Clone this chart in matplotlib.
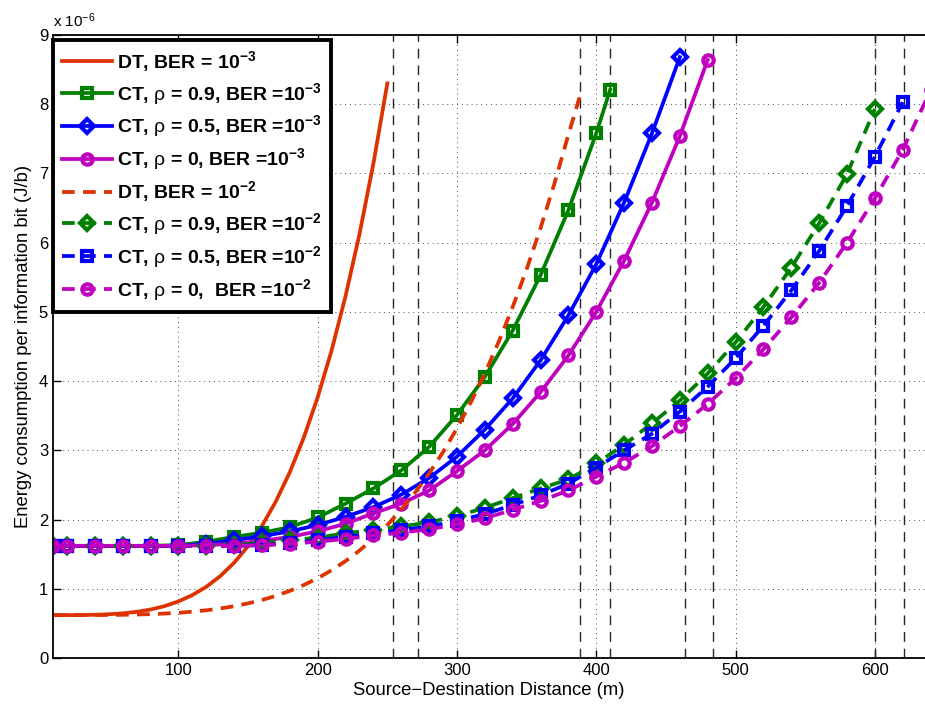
import matplotlib
matplotlib.use('Agg')
import matplotlib.pyplot as plt

plt.rcParams['font.family'] = ['Liberation Sans', 'DejaVu Sans']
plt.rcParams['mathtext.fontset'] = 'custom'
plt.rcParams['mathtext.rm'] = 'Liberation Sans'
plt.rcParams['mathtext.bf'] = 'Liberation Sans:bold'
plt.rcParams['mathtext.it'] = 'Liberation Sans:italic'

# energy per bit, in units of 1e-6 J/b
# direct transmission (no markers), read every 10 m
dt3_x = [10, 20, 30, 40, 50, 60, 70, 80, 90, 100, 110, 120, 130, 140, 150,
         160, 170, 180, 190, 200, 210, 220, 230, 240, 250]
dt3_y = [0.62, 0.62, 0.62, 0.625, 0.632, 0.645, 0.667, 0.70, 0.749, 0.817,
         0.908, 1.028, 1.182, 1.375, 1.615, 1.908, 2.262, 2.684, 3.182, 3.766,
         4.443, 5.226, 6.121, 7.141, 8.30]

dt2_x = [10, 20, 30, 40, 50, 60, 70, 80, 90, 100, 110, 120, 130, 140, 150,
         160, 170, 180, 190, 200, 210, 220, 230, 240, 250, 260, 270, 280, 290,
         300, 310, 320, 330, 340, 350, 360, 370, 380, 388]
dt2_y = [0.62, 0.62, 0.62, 0.621, 0.622, 0.624, 0.628, 0.634, 0.642, 0.653,
         0.669, 0.689, 0.715, 0.748, 0.789, 0.838, 0.898, 0.97, 1.054, 1.153,
         1.268, 1.40, 1.552, 1.725, 1.921, 2.142, 2.39, 2.667, 2.975, 3.317,
         3.695, 4.11, 4.57, 5.07, 5.615, 6.21, 6.857, 7.56, 8.1]

# cooperative transmission, markers every 20 m
ct09_3_x = [10, 20, 40, 60, 80, 100, 120, 140, 160, 180, 200, 220, 240, 260,
            280, 300, 320, 340, 360, 380, 400, 410]
ct09_3_y = [1.62, 1.62, 1.62, 1.62, 1.62, 1.63, 1.68, 1.75, 1.81, 1.89, 2.03,
            2.23, 2.45, 2.71, 3.05, 3.51, 4.06, 4.73, 5.53, 6.47, 7.58, 8.21]

ct05_3_x = [10, 20, 40, 60, 80, 100, 120, 140, 160, 180, 200, 220, 240, 260,
            280, 300, 320, 340, 360, 380, 400, 420, 440, 460]
ct05_3_y = [1.62, 1.62, 1.62, 1.62, 1.62, 1.62, 1.65, 1.70, 1.76, 1.83, 1.92,
            2.04, 2.18, 2.36, 2.60, 2.91, 3.30, 3.75, 4.30, 4.95, 5.69, 6.58,
            7.58, 8.68]

ct0_3_x = [10, 20, 40, 60, 80, 100, 120, 140, 160, 180, 200, 220, 240, 260,
           280, 300, 320, 340, 360, 380, 400, 420, 440, 460, 480]
ct0_3_y = [1.62, 1.62, 1.62, 1.62, 1.62, 1.62, 1.63, 1.65, 1.69, 1.75, 1.83,
           1.94, 2.09, 2.23, 2.42, 2.70, 3.00, 3.38, 3.84, 4.37, 5.00, 5.74,
           6.58, 7.54, 8.64]

ct09_2_x = [10, 20, 40, 60, 80, 100, 120, 140, 160, 180, 200, 220, 240, 260,
            280, 300, 320, 340, 360, 380, 400, 420, 440, 460, 480, 500, 520,
            540, 560, 580, 600]
ct09_2_y = [1.62, 1.62, 1.62, 1.62, 1.62, 1.62, 1.62, 1.63, 1.66, 1.70, 1.74,
            1.80, 1.85, 1.90, 1.96, 2.05, 2.17, 2.31, 2.45, 2.58, 2.81, 3.08,
            3.39, 3.72, 4.11, 4.56, 5.07, 5.64, 6.28, 6.99, 7.93]

ct05_2_x = [10, 20, 40, 60, 80, 100, 120, 140, 160, 180, 200, 220, 240, 260,
            280, 300, 320, 340, 360, 380, 400, 420, 440, 460, 480, 500, 520,
            540, 560, 580, 600, 620]
ct05_2_y = [1.62, 1.62, 1.62, 1.62, 1.62, 1.62, 1.62, 1.62, 1.63, 1.66, 1.70,
            1.75, 1.80, 1.85, 1.90, 1.98, 2.08, 2.21, 2.35, 2.52, 2.75, 3.00,
            3.24, 3.56, 3.92, 4.33, 4.80, 5.31, 5.88, 6.53, 7.24, 8.03]

ct0_2_x = [10, 20, 40, 60, 80, 100, 120, 140, 160, 180, 200, 220, 240, 260,
           280, 300, 320, 340, 360, 380, 400, 420, 440, 460, 480, 500, 520,
           540, 560, 580, 600, 620, 640]
ct0_2_y = [1.62, 1.62, 1.62, 1.62, 1.62, 1.62, 1.62, 1.62, 1.63, 1.65, 1.68,
           1.72, 1.77, 1.81, 1.86, 1.93, 2.02, 2.14, 2.27, 2.42, 2.62, 2.82,
           3.06, 3.35, 3.67, 4.04, 4.46, 4.92, 5.42, 6.00, 6.64, 7.34, 8.20]

# max range markers
vlines_x = [254, 272, 388, 410, 464, 484, 600, 621]

labels = [r'DT, BER = $\mathbf{10^{-3}}$',
          r'CT, $\mathrm{\rho}$ = 0.9, BER =$\mathbf{10^{-3}}$',
          r'CT, $\mathrm{\rho}$ = 0.5, BER =$\mathbf{10^{-3}}$',
          r'CT, $\mathrm{\rho}$ = 0, BER =$\mathbf{10^{-3}}$',
          r'DT, BER = $\mathbf{10^{-2}}$',
          r'CT, $\mathrm{\rho}$ = 0.9, BER =$\mathbf{10^{-2}}$',
          r'CT, $\mathrm{\rho}$ = 0.5, BER =$\mathbf{10^{-2}}$',
          r'CT, $\mathrm{\rho}$ = 0,  BER =$\mathbf{10^{-2}}$']

red = '#dd3300'
green = '#008000'
blue = '#0000ff'
mag = '#bf00bf'

fig = plt.figure(figsize=(9.25, 7.06), dpi=100)
ax = fig.add_axes([53 / 925, 48 / 706, 1 - 53 / 925, 623 / 706])

lw = 2.7
dash = (3.4, 2.2)
mk = dict(ms=7.5, mew=3.0, mfc='none')

ax.plot(dt3_x, dt3_y, '-', color=red, lw=lw, label=labels[0])
ax.plot(ct09_3_x, ct09_3_y, '-s', color=green, lw=lw, label=labels[1], **mk)
ax.plot(ct05_3_x, ct05_3_y, '-D', color=blue, lw=lw, label=labels[2], **mk)
ax.plot(ct0_3_x, ct0_3_y, '-o', color=mag, lw=lw, label=labels[3], **mk)
ax.plot(dt2_x, dt2_y, '--', color=red, lw=lw, dashes=dash, label=labels[4])
ax.plot(ct09_2_x, ct09_2_y, '--D', color=green, lw=lw, dashes=dash, label=labels[5], **mk)
ax.plot(ct05_2_x, ct05_2_y, '--s', color=blue, lw=lw, dashes=dash, label=labels[6], **mk)
ax.plot(ct0_2_x, ct0_2_y, '--o', color=mag, lw=lw, dashes=dash, label=labels[7], **mk)

for xv in vlines_x:
    ax.axvline(xv, color='0.15', lw=1.0, dashes=(7, 5), zorder=1.5)

ax.set_xlim(10, 636)
ax.set_ylim(0, 9)
ax.set_xticks([100, 200, 300, 400, 500, 600])
ax.set_yticks(range(10))
ax.grid(True, color='0.3', lw=0.7, linestyle=(0, (1, 4)))
ax.set_axisbelow(True)
ax.tick_params(direction='in', top=True, right=False, length=6, width=1,
               labelsize=12)
for side in ['left', 'bottom', 'top']:
    ax.spines[side].set_linewidth(1.3)
ax.spines['right'].set_visible(False)

ax.set_xlabel('Source\u2212Destination Distance (m)', fontsize=13.3, labelpad=3)
ax.set_ylabel('Energy consumption per information bit (J/b)', fontsize=13.3,
              labelpad=5)
ax.text(0.0, 1.008, r'x 10$^{-6}$', transform=ax.transAxes, fontsize=11,
        ha='left', va='bottom')

leg = ax.legend(loc='upper left', bbox_to_anchor=(0.0, 0.992), numpoints=1,
                prop={'weight': 'bold', 'size': 14}, handlelength=2.6,
                handletextpad=0.25, labelspacing=0.36, borderpad=0.45,
                borderaxespad=0.0, fancybox=False, framealpha=1)
leg.get_frame().set_edgecolor('k')
leg.get_frame().set_linewidth(2.8)

fig.savefig('out.png', dpi=100)
